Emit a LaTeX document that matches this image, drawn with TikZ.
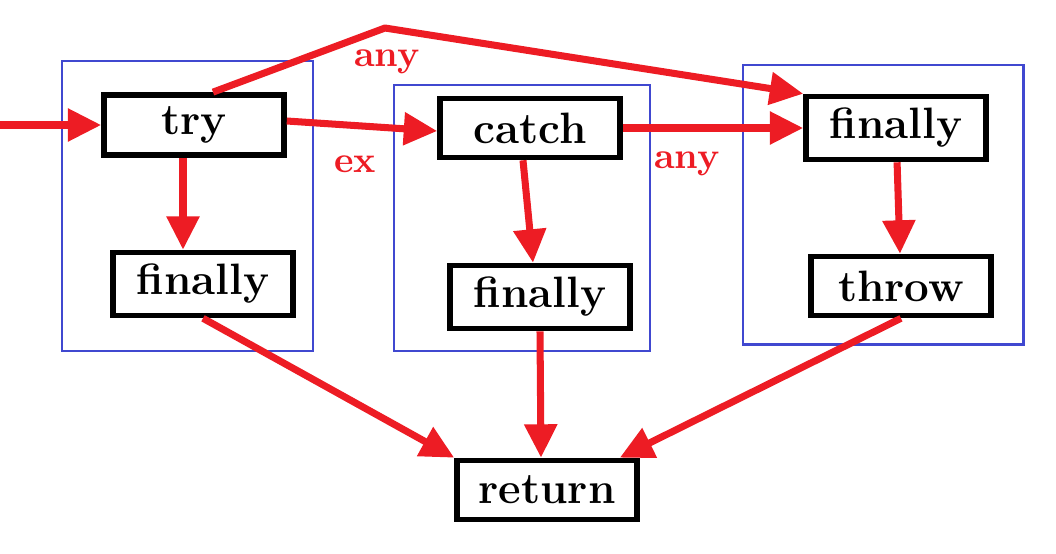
\documentclass[tikz,border=0pt]{standalone}
\usepackage{tikz}
\usetikzlibrary{arrows.meta}
\definecolor{arrred}{RGB}{237,28,36}
\definecolor{grpblue}{RGB}{64,72,208}

\begin{document}
\begin{tikzpicture}[
  blk/.style={draw,line width=1.6pt,minimum width=1.80cm,minimum height=0.59cm,
    font=\fontsize{12.5}{14}\selectfont\bfseries},
  flow/.style={draw=arrred,line width=2pt,line join=round,
    -{Triangle[length=9.5pt,width=9pt]}},
  lbl/.style={text=arrred,font=\fontsize{10.5}{12}\selectfont\bfseries},
  grp/.style={draw=grpblue,line width=0.85pt}]
\useasboundingbox (0,0) rectangle (10.56,-5.54);
% groups
\draw[grp] (0.62,-0.61) rectangle (3.13,-3.51);
\draw[grp] (3.94,-0.85) rectangle (6.50,-3.51);
\draw[grp] (7.43,-0.65) rectangle (10.23,-3.44);
% blocks
\node[blk] (try) at (1.94,-1.25) {try};
\node[blk] (fin1) at (2.03,-2.84) {finally};
\node[blk] (catch) at (5.30,-1.28) {catch};
\node[blk] (fin2) at (5.40,-2.97) {finally};
\node[blk] (fin3) at (8.96,-1.28) {finally};
\node[blk] (throw) at (9.01,-2.86) {throw};
\node[blk] (ret) at (5.47,-4.90) {return};
\coordinate (in) at (0,-1.25);
\coordinate (top) at (3.85,-0.28);
\node[lbl] (any1) at (3.87,-0.62) {any};
\node[lbl] (ex) at (3.55,-1.64) {ex};
\node[lbl] (any2) at (6.87,-1.64) {any};
% edges
\draw[flow] (in) -- (try);
\draw[flow] ([xshift=0.19cm]try.north) -- (top) -- (fin3.north west);
\draw[flow] ([yshift=0.04cm]try.east) -- ([yshift=-0.03cm]catch.west);
\foreach \from/\to in {catch/fin3,fin3/throw}
\draw[flow] (\from) -- (\to);
\draw[flow] ([xshift=-0.11cm]try.south) -- ([xshift=-0.2cm]fin1.north);
\draw[flow] ([xshift=-0.07cm]catch.south) -- ([xshift=-0.07cm]fin2.north);
\draw[flow] (fin1.south) -- (ret.north west);
\draw[flow] (fin2.south) -- ([xshift=-0.06cm]ret.north);
\draw[flow] (throw.south) -- ([xshift=-0.2cm]ret.north east);
\end{tikzpicture}
\end{document}
